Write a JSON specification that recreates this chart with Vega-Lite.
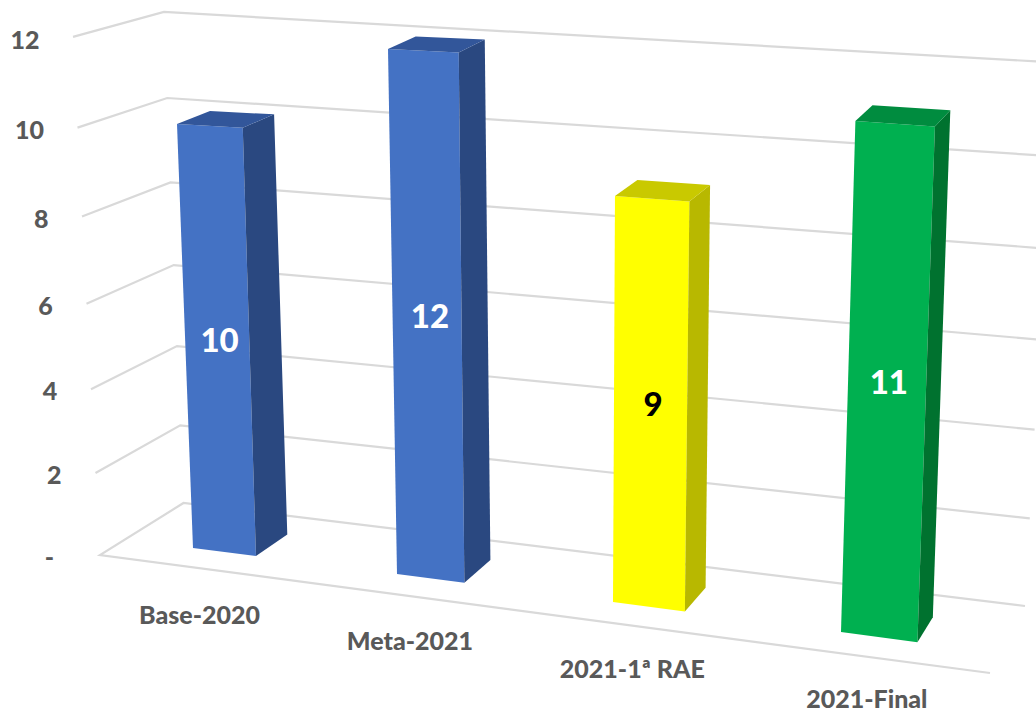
{
"$schema":"https://vega.github.io/schema/vega-lite/v6.json",
"width":1036,"height":715,"padding":0,"autosize":{"type":"none"},
"background":"white",
"config":{"view":{"stroke":null}},
"datasets":{
"bars":[{"category":"Base-2020","value":10},{"category":"Meta-2021","value":12},{"category":"2021-1ª RAE","value":9},{"category":"2021-Final","value":11}],
"ticks":[{"tick":0},{"tick":2},{"tick":4},{"tick":6},{"tick":8},{"tick":10},{"tick":12}]
},
"encoding":{
"x":{"field":"px","type":"quantitative","scale":{"domain":[0,1036],"nice":false,"zero":false},"axis":null},
"y":{"field":"py","type":"quantitative","scale":{"domain":[0,715],"reverse":true,"nice":false,"zero":false},"axis":null}
},
"layer":[
{"data":{"name":"ticks"},
"transform":[
{"calculate":"[0,1,2,3]","as":"p"},{"flatten":["p"]},
{"filter":"datum.p>0 || datum.tick==0"},
{"calculate":"datum.p==0?990:datum.p==1?100-2.25*datum.tick:datum.p==2?183.5-1.63*datum.tick:1025+2.4*datum.tick","as":"px"},
{"calculate":"datum.p==0?673:datum.p==1?555-40.57*datum.tick-0.217*datum.tick*datum.tick:datum.p==2?503-38.4*datum.tick-0.21*datum.tick*datum.tick:606-43.5*datum.tick-0.15*datum.tick*datum.tick","as":"py"}
],
"mark":{"type":"line","stroke":"#D9D9D9","strokeWidth":2.2,"clip":true},
"encoding":{"detail":{"field":"tick"},"order":{"field":"p"}}},
{"data":{"name":"bars"},
"transform":[
{"calculate":"indexof(['Base-2020','Meta-2021','2021-1ª RAE','2021-Final'],datum.category)","as":"i"},
{"calculate":"[{f:'front',c:0,s:0,e:0,d:0},{f:'front',c:1,s:1,e:0,d:0},{f:'front',c:2,s:1,e:1,d:0},{f:'front',c:3,s:0,e:1,d:0},{f:'side',c:0,s:1,e:0,d:0},{f:'side',c:1,s:1,e:0,d:1},{f:'side',c:2,s:1,e:1,d:1},{f:'side',c:3,s:1,e:1,d:0},{f:'top',c:0,s:0,e:1,d:0},{f:'top',c:1,s:1,e:1,d:0},{f:'top',c:2,s:1,e:1,d:1},{f:'top',c:3,s:0,e:1,d:1}]","as":"k"},
{"flatten":["k"]},
{"calculate":"datum.i+(0.315+0.003*datum.i)*datum.k.s","as":"u"},
{"calculate":"datum.value*datum.k.e","as":"v"},
{"calculate":"datum.k.c","as":"corner"},
{"calculate":"datum.category+' '+datum.k.f","as":"face"},
{"calculate":"193+198*datum.u+6*datum.u*datum.u+(-1.6+0.79*datum.i+0.06*datum.i*datum.i+0.28*datum.k.s)*datum.v+datum.k.d*(33-5.3*datum.u)","as":"px"},
{"calculate":"548+25*datum.u+datum.u*datum.u-(42.4+1.35*datum.u)*datum.v+datum.k.d*(-21-1.2*datum.u+0.8*datum.v)","as":"py"}
],
"mark":{"type":"line","strokeWidth":0,"interpolate":"linear"},
"encoding":{
"fill":{"field":"face","type":"nominal","legend":null,"scale":{
"domain":["Base-2020 front","Base-2020 side","Base-2020 top","Meta-2021 front","Meta-2021 side","Meta-2021 top","2021-1ª RAE front","2021-1ª RAE side","2021-1ª RAE top","2021-Final front","2021-Final side","2021-Final top"],
"range":["#4472C4","#2A4880","#32569A","#4472C4","#2A4880","#32569A","#FFFF00","#B8B800","#C9C900","#00B050","#00722F","#008C3F"]}},
"order":{"field":"corner"}}},
{"data":{"name":"bars"},
"transform":[
{"calculate":"indexof(['Base-2020','Meta-2021','2021-1ª RAE','2021-Final'],datum.category)+0.16","as":"u"},
{"calculate":"datum.value/2","as":"v"},
{"calculate":"195+198*datum.u+6*datum.u*datum.u+(-1.6+0.98*datum.u)*datum.v","as":"px"},
{"calculate":"551.5+25*datum.u+datum.u*datum.u-(42.4+1.35*datum.u)*datum.v","as":"py"}
],
"mark":{"type":"text","font":"Lato","fontWeight":900,"fontSize":33,"align":"center","baseline":"middle"},
"encoding":{"text":{"field":"value","type":"quantitative"},
"color":{"field":"category","type":"nominal","legend":null,"scale":{"domain":["Base-2020","Meta-2021","2021-1ª RAE","2021-Final"],"range":["#FFFFFF","#FFFFFF","#000000","#FFFFFF"]}}}},
{"data":{"name":"bars"},
"transform":[
{"calculate":"indexof(['Base-2020','Meta-2021','2021-1ª RAE','2021-Final'],datum.category)+0.16","as":"u"},
{"calculate":"193+198*datum.u+6*datum.u*datum.u-26+4.5*datum.u","as":"px"},
{"calculate":"548+25*datum.u+datum.u*datum.u+63.5","as":"py"}
],
"mark":{"type":"text","font":"Lato","fontWeight":900,"fontSize":25,"align":"center","baseline":"middle","color":"#595959"},
"encoding":{"text":{"field":"category"}}},
{"data":{"name":"ticks"},
"transform":[
{"calculate":"datum.tick==0?'-':''+datum.tick","as":"label"},
{"calculate":"datum.tick==0?54:66-2.2*datum.tick","as":"px"},
{"calculate":"558-40.7*datum.tick-0.2*datum.tick*datum.tick","as":"py"}
],
"mark":{"type":"text","font":"Lato","fontWeight":900,"fontSize":25,"align":"right","baseline":"middle","color":"#595959"},
"encoding":{"text":{"field":"label"}}}
]
}
